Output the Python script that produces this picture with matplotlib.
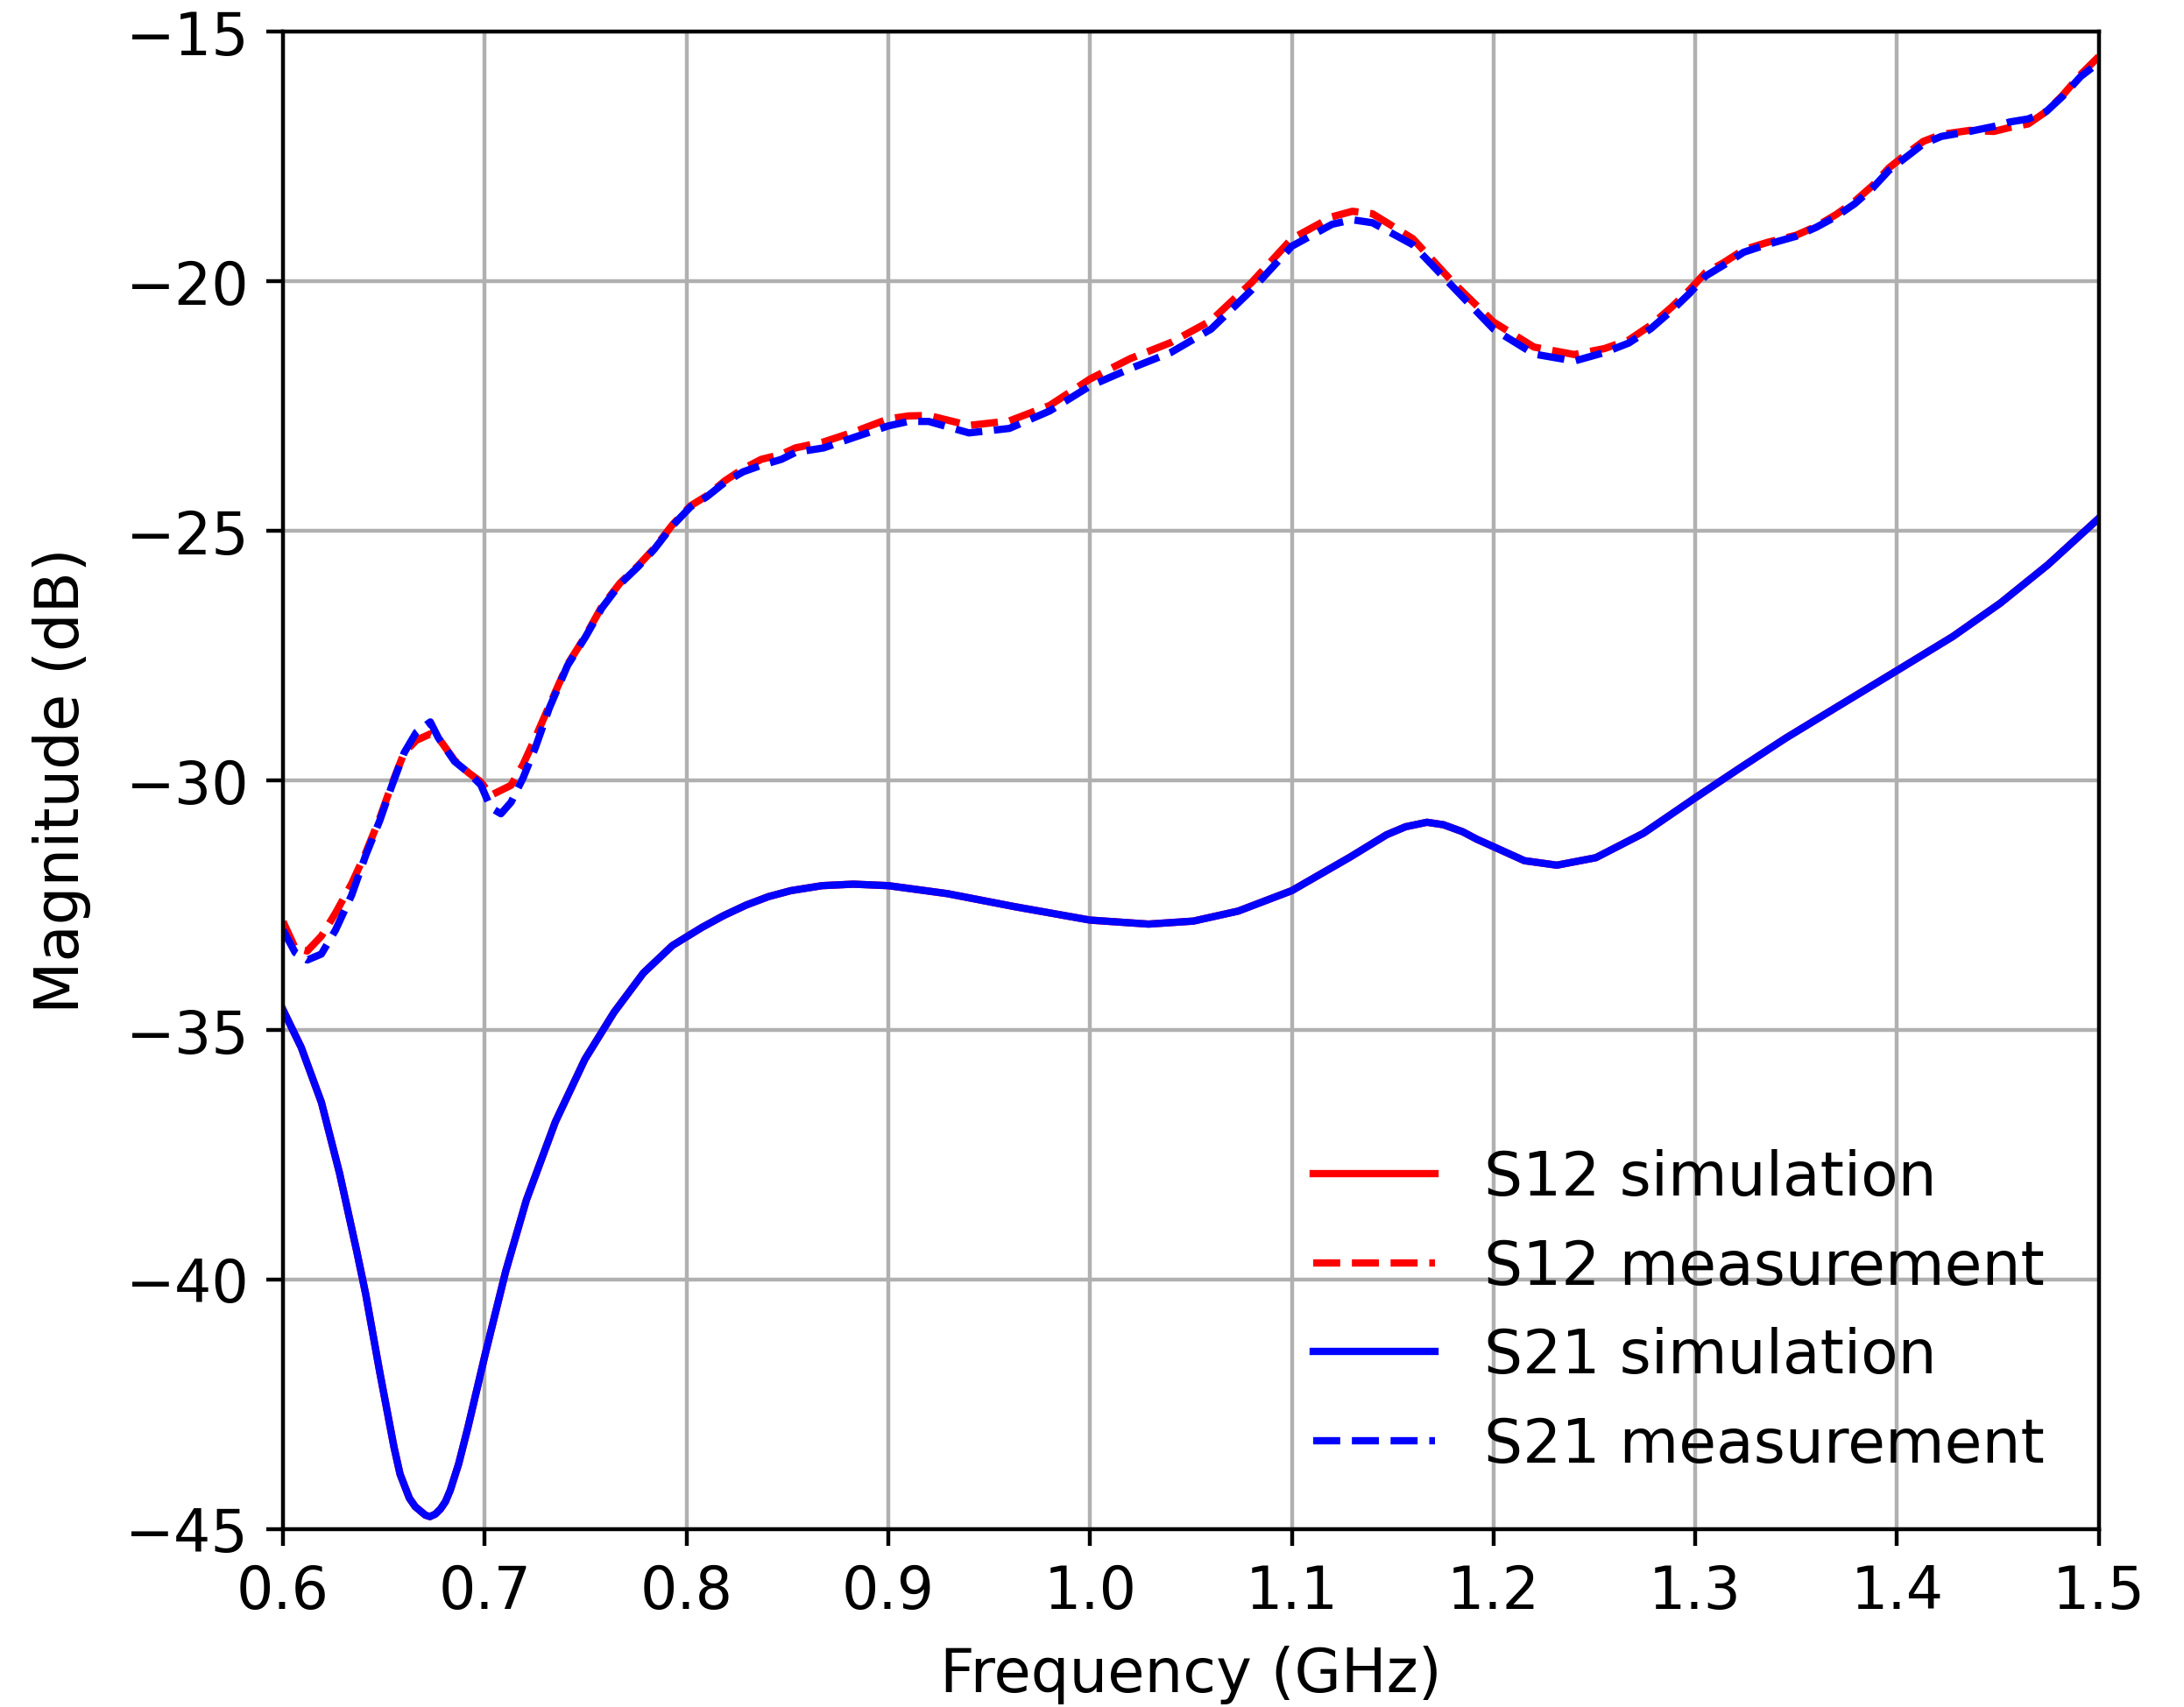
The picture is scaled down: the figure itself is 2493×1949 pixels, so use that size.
import numpy as np
import matplotlib.pyplot as plt

# simulation (S12 and S21 are identical)
f_sim = [0.600, 0.609, 0.619, 0.628, 0.6365, 0.641, 0.648, 0.655, 0.658, 0.6626, 0.6655,
         0.6705, 0.6728, 0.6755, 0.678, 0.6805, 0.6829, 0.687, 0.6916, 0.7003, 0.7104,
         0.7206, 0.735, 0.7496, 0.764, 0.7786, 0.793, 0.8075, 0.8184, 0.8295, 0.8406,
         0.8517, 0.8672, 0.8827, 0.900, 0.9293, 0.9625, 1.000, 1.029, 1.0512, 1.0734,
         1.100, 1.1288, 1.147, 1.1564, 1.167, 1.1752, 1.1847, 1.1917, 1.200, 1.2153,
         1.2314, 1.2507, 1.2743, 1.300, 1.3215, 1.345, 1.3686, 1.400, 1.4276, 1.4512,
         1.4748, 1.500]
s_sim = [-34.6, -35.35, -36.45, -37.87, -39.43, -40.30, -41.87, -43.36, -43.9, -44.38, -44.55,
         -44.72, -44.75, -44.7, -44.6, -44.45, -44.22, -43.7, -42.97, -41.48, -39.83,
         -38.41, -36.84, -35.59, -34.65, -33.86, -33.31, -32.95, -32.71, -32.5, -32.33,
         -32.21, -32.11, -32.08, -32.11, -32.27, -32.53, -32.8, -32.88, -32.82, -32.62,
         -32.21, -31.54, -31.09, -30.93, -30.84, -30.89, -31.03, -31.18, -31.33, -31.61,
         -31.7, -31.55, -31.06, -30.35, -29.77, -29.15, -28.57, -27.8, -27.12, -26.45,
         -25.68, -24.75]

# measurement
f_meas = [0.600, 0.606, 0.612, 0.619, 0.626, 0.634, 0.641, 0.648, 0.654, 0.660, 0.666,
          0.673, 0.677, 0.685, 0.692, 0.698, 0.703, 0.708, 0.713, 0.719, 0.725, 0.732,
          0.741, 0.750, 0.758, 0.767, 0.776, 0.784, 0.793, 0.802, 0.810, 0.819, 0.828,
          0.837, 0.847, 0.854, 0.868, 0.883, 0.900, 0.910, 0.920, 0.940, 0.960, 0.980,
          1.000, 1.020, 1.040, 1.060, 1.080, 1.100, 1.120, 1.130, 1.140, 1.160, 1.180,
          1.200, 1.220, 1.240, 1.255, 1.267, 1.278, 1.288, 1.297, 1.305, 1.314, 1.324,
          1.336, 1.350, 1.360, 1.370, 1.379, 1.388, 1.396, 1.405, 1.413, 1.422, 1.436,
          1.448, 1.456, 1.465, 1.474, 1.482, 1.491, 1.500]
s12_meas = [-32.83, -33.36, -33.42, -33.12, -32.66, -32.07, -31.45, -30.75, -30.07, -29.45, -29.2,
            -29.07, -29.15, -29.6, -29.85, -30.03, -30.3, -30.2, -30.1, -29.68, -29.15, -28.5,
            -27.68, -27.1, -26.52, -26.05, -25.7, -25.35, -24.88, -24.5, -24.3, -24.0, -23.76,
            -23.57, -23.47, -23.34, -23.22, -23.02, -22.76, -22.7, -22.69, -22.89, -22.8, -22.49,
            -21.96, -21.55, -21.23, -20.79, -20.03, -19.15, -18.71, -18.6, -18.65, -19.15, -20.03,
            -20.82, -21.32, -21.47, -21.35, -21.18, -20.88, -20.53, -20.18, -19.83, -19.63, -19.37,
            -19.22, -19.08, -18.9, -18.66, -18.4, -18.08, -17.73, -17.44, -17.2, -17.06, -16.98,
            -17.0, -16.92, -16.85, -16.6, -16.28, -15.86, -15.5]
s21_meas = [-33.0, -33.45, -33.6, -33.48, -33.0, -32.3, -31.5, -30.8, -30.1, -29.45, -29.04,
            -28.83, -29.15, -29.62, -29.85, -30.09, -30.55, -30.67, -30.44, -29.95, -29.35, -28.55,
            -27.7, -27.12, -26.55, -26.07, -25.72, -25.37, -24.9, -24.52, -24.32, -24.03, -23.82,
            -23.69, -23.57, -23.43, -23.34, -23.13, -22.9, -22.81, -22.81, -23.04, -22.95, -22.6,
            -22.1, -21.75, -21.43, -20.96, -20.18, -19.3, -18.86, -18.77, -18.83, -19.27, -20.12,
            -20.96, -21.46, -21.6, -21.43, -21.24, -20.95, -20.6, -20.25, -19.9, -19.68, -19.42,
            -19.26, -19.1, -18.92, -18.7, -18.45, -18.13, -17.78, -17.5, -17.25, -17.1, -17.0,
            -16.9, -16.81, -16.75, -16.6, -16.3, -15.9, -15.62]

plt.rcParams['font.size'] = 12

fig, ax = plt.subplots(figsize=(2493 / 400, 1949.6 / 400), dpi=400)
fig.subplots_adjust(left=0.1296, right=0.961, bottom=0.1042, top=0.9812)

ax.plot(f_sim, s_sim, 'r-', lw=1.5, label='S12 simulation')
ax.plot(f_meas, s12_meas, 'r--', lw=1.5, label='S12 measurement')
ax.plot(f_sim, s_sim, 'b-', lw=1.5, label='S21 simulation')
ax.plot(f_meas, s21_meas, 'b--', lw=1.5, label='S21 measurement')

ax.set_xlim(0.6, 1.5)
ax.set_ylim(-45, -15)
ax.set_xticks(np.arange(0.6, 1.51, 0.1))
ax.set_xticklabels(['%.1f' % v for v in np.arange(0.6, 1.51, 0.1)])
ax.set_yticks(np.arange(-45, -14, 5))
ax.grid(True)
ax.set_xlabel('Frequency (GHz)', fontsize=12.4, labelpad=5)
ax.set_ylabel('Magnitude (dB)', fontsize=12.4, labelpad=7)
ax.legend(loc='lower right', frameon=False, fontsize=12.5)

fig.savefig('out.png', dpi=400)
